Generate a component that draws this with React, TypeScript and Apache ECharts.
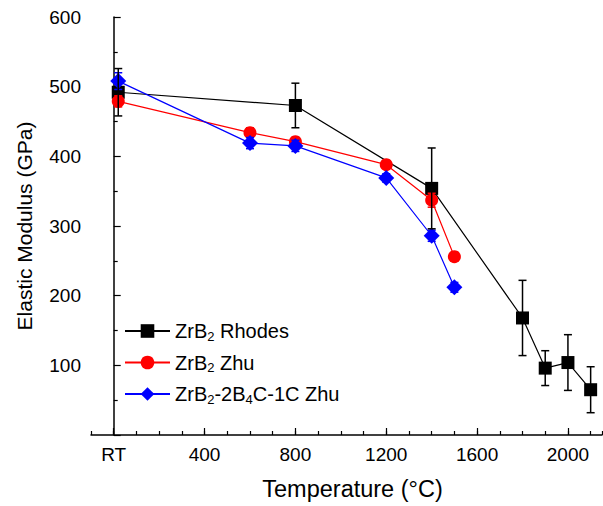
import React, { useEffect, useRef } from "react";
import * as echarts from "echarts";

const TEMP_RHODES = [20, 800, 1400, 1800, 1900, 2000, 2100];
const MOD_RHODES = [492, 473, 354, 168, 96, 104, 65];
const ERR_RHODES = [34, 32, 58, 54, 25, 40, 33];

const TEMP_ZHU = [20, 600, 800, 1200, 1400, 1500];
const MOD_ZHU = [479, 434, 421, 388, 337, 256];
const ERR_ZHU = [8, 7, 6, 5, 10, 6];

const TEMP_ZHU_C = [20, 600, 800, 1200, 1400, 1500];
const MOD_ZHU_C = [508, 419, 415, 369, 286, 212];
const ERR_ZHU_C = [12, 8, 8, 6, 8, 7];

const X_LABEL_VALUES = [0, 400, 800, 1200, 1600, 2000];

const FONT = "Arial, 'Liberation Sans', sans-serif";

function pts(xs: number[], ys: number[]) {
  return xs.map((x, i) => [x, ys[i]]);
}
function errs(xs: number[], ys: number[], es: number[]) {
  return xs.map((x, i) => [x, ys[i] - es[i], ys[i] + es[i]]);
}

function errorSeries(name: string, data: number[][], color: string, z: number) {
  return {
    type: "custom",
    name: name + "-err",
    xAxisIndex: 0,
    yAxisIndex: 0,
    z,
    silent: true,
    data,
    encode: { x: 0, y: [1, 2] },
    renderItem: (params: any, api: any) => {
      const x = api.value(0);
      const lo = api.coord([x, api.value(1)]);
      const hi = api.coord([x, api.value(2)]);
      const hw = 4;
      const style = { stroke: color, lineWidth: 1.5 };
      return {
        type: "group",
        children: [
          { type: "line", shape: { x1: lo[0], y1: lo[1], x2: hi[0], y2: hi[1] }, style },
          { type: "line", shape: { x1: hi[0] - hw, y1: hi[1], x2: hi[0] + hw, y2: hi[1] }, style },
          { type: "line", shape: { x1: lo[0] - hw, y1: lo[1], x2: lo[0] + hw, y2: lo[1] }, style },
        ],
      };
    },
  };
}

export default function App() {
  const ref = useRef<HTMLDivElement>(null);
  useEffect(() => {
    if (!ref.current) return;
    const chart = echarts.init(ref.current, null, { renderer: "svg" });
    const legendNames: Record<string, string> = {
      "ZrB2 Rhodes": "{n|ZrB}{s|2}{n| Rhodes}",
      "ZrB2 Zhu": "{n|ZrB}{s|2}{n| Zhu}",
      "ZrB2-2B4C-1C Zhu": "{n|ZrB}{s|2}{n|-2B}{s|4}{n|C-1C Zhu}",
    };
    chart.setOption({
      animation: false,
      backgroundColor: "#ffffff",
      textStyle: { fontFamily: FONT },
      grid: { left: 91, right: 1, top: 17, bottom: 70, containLabel: false },
      legend: {
        orient: "vertical",
        left: 124,
        top: 321,
        padding: 0,
        itemWidth: 45,
        itemHeight: 17,
        itemGap: 10,
        data: ["ZrB2 Rhodes", "ZrB2 Zhu", "ZrB2-2B4C-1C Zhu"],
        formatter: (n: string) => legendNames[n] || n,
        textStyle: {
          fontFamily: FONT,
          fontSize: 20,
          color: "#000",
          rich: {
            n: { fontSize: 20, fontFamily: FONT, color: "#000" },
            s: { fontSize: 13, fontFamily: FONT, color: "#000", padding: [10, 0, 0, 0] },
          },
        },
      },
      xAxis: [
        {
          type: "value",
          min: -100,
          max: 2150,
          position: "bottom",
          name: "Temperature (°C)",
          nameLocation: "middle",
          nameGap: 42,
          nameTextStyle: { fontSize: 23.5, color: "#000", fontFamily: FONT, padding: [0, 0, 0, 12] },
          axisLine: { show: true, lineStyle: { color: "#000", width: 1.5 } },
          axisTick: { show: true, inside: true, length: 7, customValues: X_LABEL_VALUES, lineStyle: { color: "#000", width: 1.2 } },
          axisLabel: {
            customValues: X_LABEL_VALUES,
            formatter: (v: number) => (v === 0 ? "RT" : String(v)),
            fontSize: 19,
            color: "#000",
            margin: 10,
            fontFamily: FONT,
          },
          splitLine: { show: false },
        },
        {
          type: "value",
          min: -100,
          max: 2150,
          interval: 100,
          position: "bottom",
          axisLine: { show: false },
          axisTick: { show: true, inside: true, length: 4, lineStyle: { color: "#000", width: 1.2 } },
          axisLabel: { show: false },
          splitLine: { show: false },
        },
      ],
      yAxis: {
        type: "value",
        min: 0,
        max: 600,
        interval: 100,
        name: "Elastic Modulus (GPa)",
        nameLocation: "middle",
        nameGap: 56,
        nameTextStyle: { fontSize: 21, color: "#000", fontFamily: FONT },
        axisLine: { show: true, lineStyle: { color: "#000", width: 1.5 } },
        axisTick: { show: true, inside: true, length: 7, lineStyle: { color: "#000", width: 1.2 } },
        minorTick: { show: true, splitNumber: 2, length: 4, lineStyle: { color: "#000", width: 1.2 } },
        axisLabel: {
          formatter: (v: number) => (v === 0 ? "" : String(v)),
          fontSize: 19,
          color: "#000",
          margin: 10,
          fontFamily: FONT,
        },
        splitLine: { show: false },
        minorSplitLine: { show: false },
      },
      series: [
        {
          type: "line",
          name: "ZrB2 Rhodes",
          xAxisIndex: 0,
          data: pts(TEMP_RHODES, MOD_RHODES),
          symbol: "rect",
          symbolSize: 13,
          itemStyle: { color: "#000000" },
          lineStyle: { color: "#000000", width: 1.2 },
          z: 2,
        },
        errorSeries("ZrB2 Rhodes", errs(TEMP_RHODES, MOD_RHODES, ERR_RHODES), "#000000", 6),
        {
          type: "line",
          name: "ZrB2 Zhu",
          xAxisIndex: 0,
          data: pts(TEMP_ZHU, MOD_ZHU),
          symbol: "circle",
          symbolSize: 13,
          itemStyle: { color: "#ff0000" },
          lineStyle: { color: "#ff0000", width: 1.2 },
          z: 3,
        },
        errorSeries("ZrB2 Zhu", errs(TEMP_ZHU, MOD_ZHU, ERR_ZHU), "#ff0000", 3),
        {
          type: "line",
          name: "ZrB2-2B4C-1C Zhu",
          xAxisIndex: 0,
          data: pts(TEMP_ZHU_C, MOD_ZHU_C),
          symbol: "diamond",
          symbolSize: 16,
          itemStyle: { color: "#0000ff" },
          lineStyle: { color: "#0000ff", width: 1.2 },
          z: 4,
        },
        errorSeries("ZrB2-2B4C-1C Zhu", errs(TEMP_ZHU_C, MOD_ZHU_C, ERR_ZHU_C), "#0000ff", 4),
      ],
    });
    return () => chart.dispose();
  }, []);
  return <div ref={ref} style={{ width: 603, height: 506, position: "absolute", left: 0, top: 0 }} />;
}
